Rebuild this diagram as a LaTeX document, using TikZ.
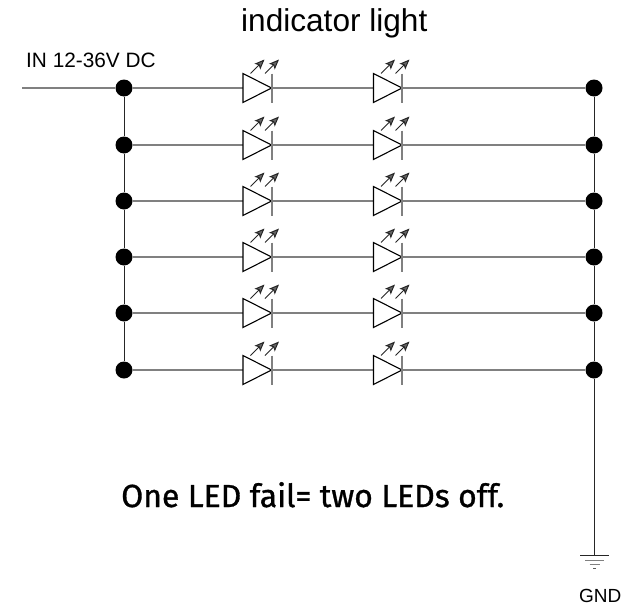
\documentclass[tikz,border=0pt]{standalone}
\usepackage{fontspec}
\setmainfont{Liberation Sans}
\newfontfamily\capfont[RawFeature={embolden=1}]{Fira Sans}
\usetikzlibrary{arrows.meta}
\tikzset{
  x=1pt,y=-1pt,
  wire/.style={line width=1.3pt,color=black!50},
  vwire/.style={line width=1pt,color=black!85},
  junction/.style={circle,fill=black,inner sep=0pt,minimum size=17pt},
  ledbody/.style={draw=black,line width=1.1pt,fill=white,line join=miter},
  ledbar/.style={line width=1.3pt,color=black!50},
  ledray/.style={line width=1pt,color=black!85,-{Stealth[length=10pt,width=8pt,inset=2pt,fill=black!60]}},
  lbl/.style={inner sep=0pt,anchor=base west},
}
\begin{document}
\begin{tikzpicture}
\useasboundingbox (0,0) rectangle (634,605);
\fill[white] (0,0) rectangle (634,605);
\coordinate (in) at (22,88);
\foreach \i/\y in {1/88,2/145,3/201,4/257,5/313,6/370}{
  \node[junction] (L\i) at (124,\y) {};
  \node[junction] (R\i) at (594,\y) {};
  \coordinate (Aa\i) at (243,\y);
  \coordinate (Ak\i) at (272,\y);
  \coordinate (Ba\i) at (373.5,\y);
  \coordinate (Bk\i) at (402,\y);
  \draw[wire] (L\i.east) -- (Aa\i);
  \draw[wire] (Ak\i) -- (Ba\i);
  \draw[wire] (Bk\i) -- (R\i.west);
  \foreach \a/\k in {Aa/Ak,Ba/Bk}{
    \draw[ledbody] (\a\i) ++(0,-14.5) -- ++(28.5,14.5) -- ++(-28.5,14.5) -- cycle;
    \draw[ledbar] (\k\i) ++(0,-14.5) -- ++(0,29);
    \draw[ledray] (\a\i) ++(7.5,-14.5) -- ++(14,-14);
    \draw[ledray] (\a\i) ++(22,-14.5) -- ++(14,-14);
  }
}
\draw[wire] (in) -- (L1.west);
\foreach \a/\b in {1/2,2/3,3/4,4/5,5/6}{
  \draw[vwire] (L\a.south) -- (L\b.north);
  \draw[vwire] (R\a.south) -- (R\b.north);
}
\coordinate (gnd) at (594,555);
\draw[vwire] (R6.south) -- (gnd);
\draw[line width=1pt,black!85] (580,555) -- (608.5,555);
\draw[line width=1pt,black!50] (585,560) -- (604,560);
\draw[line width=1pt,black!50] (589.5,564) -- (600,564);
\draw[line width=1pt,black!65] (593,568) -- (596,568);
\node[lbl,font=\fontsize{31.6}{33}\selectfont] (title) at (241,31) {indicator light};
\node[lbl,font=\fontsize{20.8}{22}\selectfont] (inlabel) at (26,67) {IN 12-36V DC};
\node[lbl,font=\capfont\fontsize{31.9}{33}\selectfont] (note) at (121,507) {One LED fail= two LEDs off.};
\node[lbl,font=\fontsize{19}{20}\selectfont] (gndlabel) at (579,602) {GND};
\end{tikzpicture}
\end{document}
